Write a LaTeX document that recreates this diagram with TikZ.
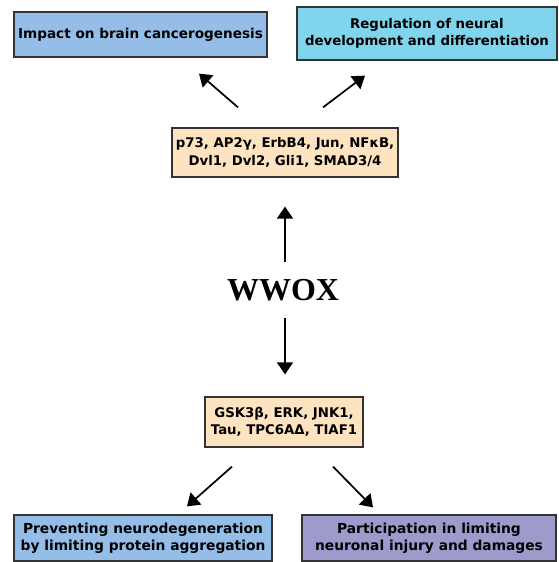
\documentclass[tikz,border=0pt]{standalone}
\usepackage{fontspec}
\setmainfont{DejaVu Sans}
\newfontfamily\wwoxfont{Liberation Serif}
\usetikzlibrary{arrows.meta}

\definecolor{cancerblue}{HTML}{94BEE8}
\definecolor{neuralcyan}{HTML}{80D4EB}
\definecolor{partnerbeige}{HTML}{FDE3C0}
\definecolor{injurypurple}{HTML}{9E9ACB}
\definecolor{boxline}{HTML}{333333}

\begin{document}
\begin{tikzpicture}[x=1pt, y=1pt,
  box/.style={draw=boxline, line width=1.2pt, rectangle, align=center, inner sep=0pt,
    font=\bfseries\fontsize{#1}{17.5}\selectfont},
  box/.default=13.3,
  arrow/.style={->, >={Triangle[length=12pt, width=16pt]}, line width=1.7pt}]

  \useasboundingbox (0,0) rectangle (558,562);

  % Define nodes
  \node[box=13.6, fill=cancerblue, minimum width=253pt, minimum height=45pt] (impact) at (140.5,527.5) {Impact on brain cancerogenesis};
  \node[box, fill=neuralcyan, minimum width=260pt, minimum height=53pt] (regulation) at (427,528.5) {Regulation of neural\\development and differentiation};
  \node[box, fill=partnerbeige, minimum width=226pt, minimum height=49pt] (upper) at (285,409.5) {p73, AP2γ, ErbB4, Jun, NFκB,\\Dvl1, Dvl2, Gli1, SMAD3/4};
  \node[font=\wwoxfont\bfseries\fontsize{32}{36}\selectfont] (wwox) at (283,272) {WWOX};
  \node[box, fill=partnerbeige, minimum width=158pt, minimum height=50pt] (lower) at (284,140) {GSK3β, ERK, JNK1,\\Tau, TPC6AΔ, TIAF1};
  \node[box=13.8, fill=cancerblue, minimum width=258pt, minimum height=46pt] (prevent) at (143,24) {Preventing neurodegeneration\\by limiting protein aggregation};
  \node[box=13.8, fill=injurypurple, minimum width=254pt, minimum height=46pt] (injury) at (429,24) {Participation in limiting\\neuronal injury and damages};

  % Connect the nodes
  \draw[arrow] ([shift={(-47,20)}]upper.north) -- ([shift={(58.5,-16)}]impact.south);
  \draw[arrow] ([shift={(38,20)}]upper.north) -- ([shift={(-62,-15)}]regulation.south);
  \draw[arrow] ([shift={(2,28)}]wwox.center) -- ([yshift=-29pt]upper.south);
  \draw[arrow] ([shift={(2,-28)}]wwox.center) -- ([shift={(1,22)}]lower.north);
  \draw[arrow] ([shift={(-52,-19)}]lower.south) -- ([shift={(44,8)}]prevent.north);
  \draw[arrow] ([shift={(49,-19)}]lower.south) -- ([shift={(-56,7)}]injury.north);

\end{tikzpicture}
\end{document}
